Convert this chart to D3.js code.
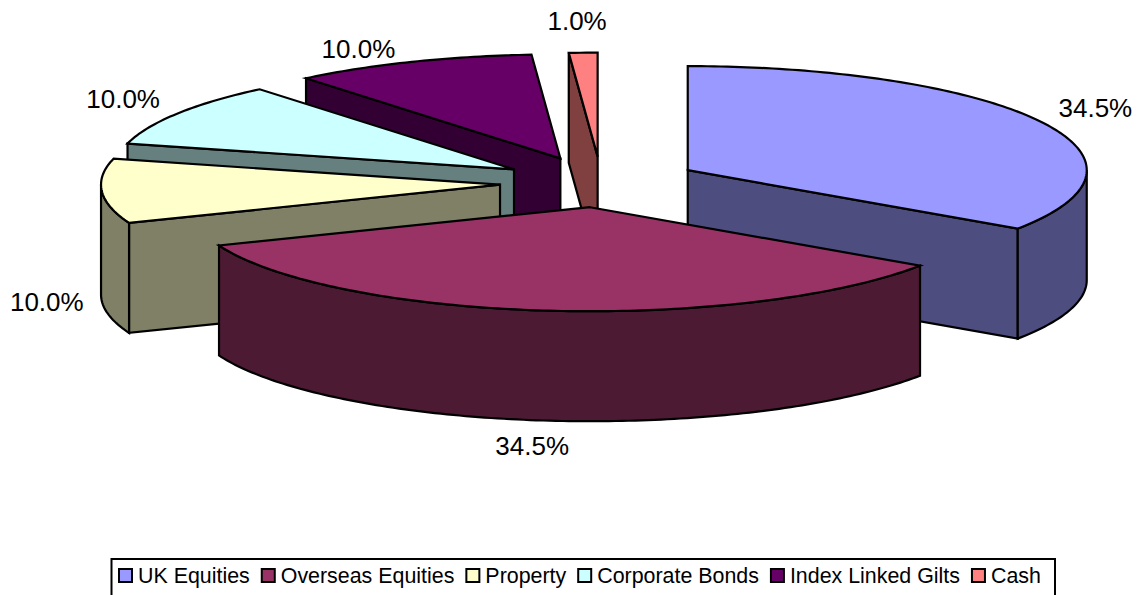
<!DOCTYPE html>
<html>
<head>
<meta charset="utf-8">
<script src="https://cdn.jsdelivr.net/npm/d3@7"></script>
<style>
  html, body { margin: 0; padding: 0; background: #fff; overflow: hidden; }
  svg { display: block; }
  text { font-family: "Liberation Sans", Arial, sans-serif; fill: #000; }
</style>
</head>
<body>
<div id="viz"></div>
<script>
const categories = ['UK Equities', 'Overseas Equities', 'Property', 'Corporate Bonds', 'Index Linked Gilts', 'Cash'];
const shares = [34.5, 34.5, 10.0, 10.0, 10.0, 1.0];
const topColors = ['#9999ff', '#993366', '#ffffcc', '#ccffff', '#660066', '#ff8080'];
const sideColors = ['#4d4d80', '#4d1a33', '#808066', '#668080', '#330033', '#804040'];

const width = 1145;
const height = 595;
const centerX = 600.7;
const centerY = 182;
const radiusX = 399;
const radiusY = 104;
const depth = 110;
const explode = 0.244;
const strokeWidth = 2.2;

// small corrections to the exploded position of each slice
const sliceNudge = [[1, 0], [0, 0], [-3.5, 1], [-4.5, 1], [-4.5, 0], [0, 0]];
// the cash wedge is drawn a little wider than its share, as in the original
const cashWiden = (0.55 * Math.PI) / 180;

// label position relative to the rim point at the middle of each slice
const labelOffsets = [[55, -13], [-14, 135], [-55, 111], [-54, -15], [-55, -13], [-8, -32]];

const percent = d3.format('.1f');

const svg = d3
  .select('#viz')
  .append('svg')
  .attr('width', width)
  .attr('height', height)
  .attr('viewBox', [0, 0, width, height]);

const slices = d3
  .pie()
  .sort(null)
  .startAngle(0)
  .endAngle(2 * Math.PI)(shares);

const line = d3.line();

// Project an angle (clockwise from the top) and radius onto the tilted plane
const project = (origin, angle, r = 1) => [
  origin[0] + r * radiusX * Math.sin(angle),
  origin[1] - r * radiusY * Math.cos(angle),
];

const drop = (p) => [p[0], p[1] + depth];

const rim = (origin, a0, a1) => {
  const steps = Math.max(2, Math.ceil((a1 - a0) * 60));
  return d3.range(steps + 1).map((i) => project(origin, a0 + ((a1 - a0) * i) / steps));
};

slices.forEach((s, i) => {
  s.index = i;
  s.mid = (s.startAngle + s.endAngle) / 2;
  const p = project([centerX, centerY], s.mid, explode);
  s.apex = [p[0] + sliceNudge[i][0], p[1] + sliceNudge[i][1]];
});
slices[4].endAngle -= cashWiden;
slices[5].startAngle -= cashWiden;

// Paint the furthest slices first
const drawOrder = slices.slice().sort((a, b) => Math.cos(b.mid) - Math.cos(a.mid));

const groups = svg
  .selectAll('g.slice')
  .data(drawOrder)
  .enter()
  .append('g')
  .attr('class', 'slice')
  .attr('stroke', '#000')
  .attr('stroke-width', strokeWidth)
  .attr('stroke-linejoin', 'miter');

groups.each(function (s) {
  const g = d3.select(this);
  const side = sideColors[s.index];
  const quad = (a) => {
    const p = project(s.apex, a);
    return [s.apex, p, drop(p), drop(s.apex)];
  };

  // Flat cut faces, only those turned toward the viewer
  if (s.startAngle > Math.PI) {
    g.append('path').attr('d', line(quad(s.startAngle)) + 'Z').attr('fill', side);
  }
  if (s.endAngle < Math.PI) {
    g.append('path').attr('d', line(quad(s.endAngle)) + 'Z').attr('fill', side);
  }

  // Curved outer wall, front half of the ellipse only
  const a0 = Math.max(s.startAngle, Math.PI / 2);
  const a1 = Math.min(s.endAngle, (3 * Math.PI) / 2);
  if (a1 > a0) {
    const upper = rim(s.apex, a0, a1);
    const lower = upper.map(drop).reverse();
    g.append('path').attr('d', line(upper.concat(lower)) + 'Z').attr('fill', side);
  }

  // Top face
  const top = [s.apex].concat(rim(s.apex, s.startAngle, s.endAngle));
  g.append('path').attr('d', line(top) + 'Z').attr('fill', topColors[s.index]);
});

// Data labels
svg
  .selectAll('text.value')
  .data(slices)
  .enter()
  .append('text')
  .attr('class', 'value')
  .attr('font-size', 26)
  .attr('text-anchor', 'middle')
  .attr('dominant-baseline', 'central')
  .attr('x', (s) => project(s.apex, s.mid)[0] + labelOffsets[s.index][0])
  .attr('y', (s) => project(s.apex, s.mid)[1] + labelOffsets[s.index][1])
  .text((s) => `${percent(s.value)}%`);

// Legend, the frame runs off the bottom of the picture as in the original
svg
  .append('rect')
  .attr('x', 111.5)
  .attr('y', 559)
  .attr('width', 943.5)
  .attr('height', 50)
  .attr('fill', '#fff')
  .attr('stroke', '#000')
  .attr('stroke-width', 2);

let legendX = 119;
categories.forEach((name, i) => {
  svg
    .append('rect')
    .attr('x', legendX)
    .attr('y', 569)
    .attr('width', 13)
    .attr('height', 13)
    .attr('fill', topColors[i])
    .attr('stroke', '#000')
    .attr('stroke-width', 2);
  const label = svg
    .append('text')
    .attr('x', legendX + 19)
    .attr('y', 583)
    .attr('font-size', 21.4)
    .text(name);
  legendX += 19 + label.node().getComputedTextLength() + 12;
});
</script>
</body>
</html>
